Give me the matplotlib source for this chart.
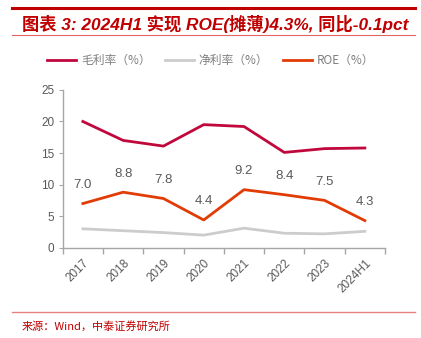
import matplotlib
matplotlib.use("Agg")
import matplotlib.pyplot as plt
from matplotlib.lines import Line2D

plt.rcParams['font.family'] = ['Liberation Sans', 'Noto Sans CJK SC', 'DejaVu Sans']

# data
years = ["2017", "2018", "2019", "2020", "2021", "2022", "2023", "2024H1"]
gross_margin = [20.0, 17.0, 16.1, 19.5, 19.2, 15.1, 15.7, 15.8]
net_margin = [3.0, 2.7, 2.4, 2.0, 3.1, 2.3, 2.2, 2.6]
roe = [7.0, 8.8, 7.8, 4.4, 9.2, 8.4, 7.5, 4.3]

c_gross = "#C0083C"
c_net = "#CCCCCC"
c_roe = "#E23C06"
c_red = "#C00000"
c_axis = "#A6A6A6"
c_text = "#595959"

fig = plt.figure(figsize=(4.21, 3.38), dpi=100)
ax = fig.add_axes([0.149, 0.267, 0.7655, 0.467])

x = list(range(len(years)))
ax.plot(x, gross_margin, color=c_gross, lw=2.0, label="毛利率（%）")
ax.plot(x, net_margin, color=c_net, lw=2.0, label="净利率（%）")
ax.plot(x, roe, color=c_roe, lw=2.0, label="ROE（%）")

for xi, v in zip(x, roe):
    ax.annotate("%.1f" % v, (xi, v), xytext=(0, 9), textcoords="offset points",
                ha="center", va="bottom", fontsize=9.5, color=c_text,
                family=["Liberation Sans"])

ax.set_xlim(-0.5, len(years) - 0.5)
ax.set_ylim(0, 25)
ax.set_yticks([0, 5, 10, 15, 20, 25])
ax.set_xticks(x)
ax.set_xticklabels(years, rotation=45, ha="right", va="top", rotation_mode="anchor")
ax.set_xticks([i - 0.5 for i in range(len(years) + 1)], minor=True)
ax.tick_params(axis="x", which="major", length=0, pad=7, labelsize=8.5, labelcolor=c_text)
ax.tick_params(axis="x", which="minor", length=4, color=c_axis, width=1)
ax.tick_params(axis="y", length=3, color=c_axis, labelsize=8.5, labelcolor=c_text, pad=3)

for s in ["top", "right"]:
    ax.spines[s].set_visible(False)
for s in ["left", "bottom"]:
    ax.spines[s].set_color(c_axis)
    ax.spines[s].set_linewidth(1)

handles = [Line2D([], [], color=c_gross, lw=2),
           Line2D([], [], color=c_net, lw=2),
           Line2D([], [], color=c_roe, lw=2)]
fig.legend(handles, ["毛利率（%）", "净利率（%）", "ROE（%）"],
           loc="center", bbox_to_anchor=(0.5, 0.822), ncol=3, frameon=False,
           labelcolor="#7F7F7F", handlelength=2.5, handletextpad=0.4,
           columnspacing=1.2, prop={"family": ["Noto Sans CJK SC"], "size": 8.5})

# header / footer rules and text
fig.add_artist(Line2D([0.029, 0.986], [0.975, 0.975], color=c_red, lw=2.2))
fig.add_artist(Line2D([0.029, 0.986], [0.897, 0.897], color="#E06666", lw=0.8))
fig.text(0.052, 0.929, "图表 3: 2024H1 实现 ROE(摊薄)4.3%, 同比-0.1pct",
         color=c_red, fontsize=12.4, fontweight="bold", fontstyle="italic",
         va="center", ha="left")
fig.add_artist(Line2D([0.029, 0.986], [0.076, 0.076], color="#E88080", lw=1.0))
fig.text(0.052, 0.036, "来源：Wind，中泰证券研究所", color=c_red, fontsize=8,
         va="center", ha="left", family=["Noto Sans CJK SC"])

fig.savefig("out.png", dpi=100)
